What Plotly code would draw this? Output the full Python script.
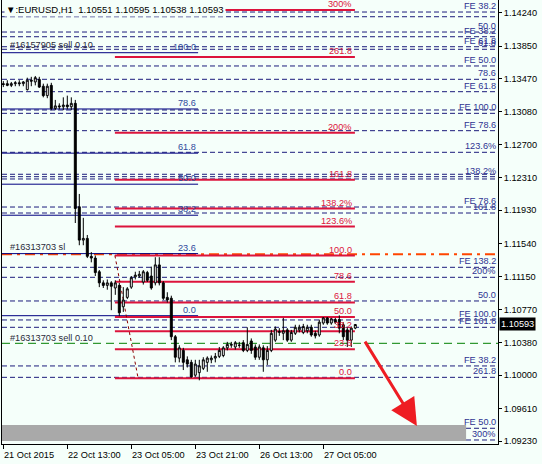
import plotly.graph_objects as go

# ---------------- data ----------------
bar_index = list(range(89))
open_ = [1.1341, 1.1341, 1.1339, 1.1341, 1.1342, 1.1341, 1.1334, 1.1345, 1.1343, 1.1346,
         1.1338, 1.1327, 1.1339, 1.1312, 1.1315, 1.1314, 1.1316, 1.1314, 1.1318, 1.1197,
         1.1158, 1.1160, 1.1139, 1.1137, 1.1121, 1.1108, 1.1105, 1.1108, 1.1102, 1.1105,
         1.1080, 1.1091, 1.1103, 1.1115, 1.1116, 1.1109, 1.1120, 1.1116, 1.1108, 1.1129,
         1.1108, 1.1091, 1.1090, 1.1045, 1.1020, 1.1029, 1.1018, 1.1015, 1.1000, 1.1003,
         1.1008, 1.1015, 1.1018, 1.1020, 1.1022, 1.1023, 1.1032, 1.1035, 1.1033, 1.1035,
         1.1038, 1.1029, 1.1040, 1.1033, 1.1021, 1.1032, 1.1018, 1.1029, 1.1041, 1.1050,
         1.1049, 1.1053, 1.1041, 1.1049, 1.1053, 1.1050, 1.1052, 1.1056, 1.1049, 1.1047,
         1.1061, 1.1067, 1.1061, 1.1065, 1.1065, 1.1059, 1.1053, 1.1041, 1.10551]
high = [1.1344, 1.1345, 1.1343, 1.1344, 1.1345, 1.1344, 1.1348, 1.1349, 1.1350, 1.1349,
        1.1341, 1.1341, 1.1342, 1.1322, 1.1318, 1.1325, 1.1327, 1.1325, 1.1322, 1.1212,
        1.1184, 1.1164, 1.1144, 1.1140, 1.1123, 1.1111, 1.1112, 1.1110, 1.1111, 1.1108,
        1.1103, 1.1103, 1.1116, 1.1121, 1.1122, 1.1123, 1.1122, 1.1127, 1.1138, 1.1138,
        1.1110, 1.1097, 1.1093, 1.1047, 1.1035, 1.1032, 1.1022, 1.1018, 1.1018, 1.1018,
        1.1021, 1.1022, 1.1023, 1.1026, 1.1033, 1.1034, 1.1039, 1.1039, 1.1040, 1.1039,
        1.1041, 1.1056, 1.1043, 1.1036, 1.1036, 1.1035, 1.1034, 1.1053, 1.1057, 1.1055,
        1.1067, 1.1055, 1.1053, 1.1059, 1.1059, 1.1060, 1.1059, 1.1059, 1.1052, 1.1065,
        1.1068, 1.1068, 1.1067, 1.1067, 1.1070, 1.1062, 1.1056, 1.1057, 1.10595]
low = [1.1337, 1.1338, 1.1337, 1.1338, 1.1338, 1.1338, 1.1333, 1.1338, 1.1339, 1.1336,
       1.1325, 1.1324, 1.1310, 1.1310, 1.1311, 1.1310, 1.1311, 1.1310, 1.1178, 1.1152,
       1.1152, 1.1137, 1.1132, 1.1116, 1.1103, 1.1102, 1.1100, 1.1076, 1.1094, 1.1069,
       1.1074, 1.1089, 1.1101, 1.1112, 1.1114, 1.1106, 1.1109, 1.1100, 1.1105, 1.1105,
       1.1088, 1.1085, 1.1041, 1.1015, 1.1015, 1.1006, 1.1009, 1.0997, 1.0998, 1.0994,
       1.1006, 1.1004, 1.1014, 1.1015, 1.1020, 1.1021, 1.1029, 1.1032, 1.1030, 1.1032,
       1.1027, 1.1027, 1.1025, 1.1018, 1.1018, 1.1004, 1.1012, 1.1027, 1.1039, 1.1046,
       1.1041, 1.1039, 1.1039, 1.1047, 1.1050, 1.1048, 1.1049, 1.1045, 1.1043, 1.1045,
       1.1059, 1.1059, 1.1059, 1.1060, 1.1049, 1.1041, 1.1033, 1.1033, 1.10538]
close = [1.1340, 1.1339, 1.1341, 1.1342, 1.1341, 1.1343, 1.1345, 1.1344, 1.1348, 1.1337,
         1.1327, 1.1338, 1.1312, 1.1315, 1.1314, 1.1316, 1.1314, 1.1318, 1.1195, 1.1158,
         1.1160, 1.1139, 1.1137, 1.1120, 1.1108, 1.1105, 1.1108, 1.1104, 1.1108, 1.1073,
         1.1088, 1.1101, 1.1114, 1.1117, 1.1118, 1.1121, 1.1111, 1.1102, 1.1129, 1.1108,
         1.1090, 1.1088, 1.1045, 1.1021, 1.1032, 1.1015, 1.1013, 1.0998, 1.1013, 1.1011,
         1.1018, 1.1020, 1.1020, 1.1022, 1.1029, 1.1032, 1.1036, 1.1036, 1.1038, 1.1035,
         1.1029, 1.1036, 1.1029, 1.1021, 1.1033, 1.1018, 1.1029, 1.1049, 1.1054, 1.1051,
         1.1052, 1.1041, 1.1050, 1.1056, 1.1056, 1.1057, 1.1056, 1.1047, 1.1046, 1.1062,
         1.1067, 1.1061, 1.1066, 1.1062, 1.1055, 1.1045, 1.1041, 1.1055, 1.10593]

date_ticks = [0, 16, 32, 48, 64, 80]
date_labels = ["21 Oct 2015", "22 Oct 13:00", "23 Oct 05:00", "23 Oct 21:00",
               "26 Oct 13:00", "27 Oct 05:00"]

price_ticks = [1.14240, 1.13850, 1.13470, 1.13080, 1.12700, 1.12310, 1.11930,
               1.11540, 1.11150, 1.10770, 1.10380, 1.10000, 1.09610, 1.09230]
price_tick_labels = ["1.14240", "1.13850", "1.13470", "1.13080", "1.12700", "1.12310",
                     "1.11930", "1.11540", "1.11150", "1.10770", "1.10380", "1.10000",
                     "1.09610", "1.09230"]

# Fibo retracement (navy, solid)
ret_labels = ["100.0", "78.6", "61.8", "50.0", "38.2", "23.6", "0.0"]
ret_prices = [1.13772, 1.13114, 1.12597, 1.12234, 1.11871, 1.11422, 1.10696]
ret_bar_end = 48.7

# Fibo (crimson)
red_labels = ["300%", "261.8", "200%", "161.8", "138.2%", "123.6%", "100.0",
              "78.6", "61.8", "50.0", "38.2", "23.6", "0.0"]
red_prices = [1.14272, 1.13723, 1.12836, 1.12287, 1.11949, 1.11739, 1.11400,
              1.11093, 1.10851, 1.10682, 1.10513, 1.10303, 1.09964]
red_bar_start, red_bar_end = 27.9, 87.9
red_anchor_bars = [27.9, 33.7]
red_anchor_prices = [1.11400, 1.09964]

# Fibo expansion levels (navy, dashed)
fe_prices = [1.14248, 1.14193, 1.14014, 1.13959, 1.13842, 1.13812, 1.13617, 1.13461,
             1.13316, 1.13102, 1.13063, 1.12860, 1.12607, 1.12350, 1.12322, 1.12295,
             1.11967, 1.11897, 1.11262, 1.11145, 1.10868, 1.10646, 1.10560, 1.10108,
             1.09975, 1.09379, 1.09242]
fe_labels = ["FE 38.2", "", "50.0", "FE 38.2", "FE 61.8", "61.8", "FE 50.0", "78.6",
             "FE 61.8", "", "FE 100.0", "FE 78.6", "123.6%", "", "138.2%", "",
             "FE 78.6", "161.8", "FE 138.2", "200%", "50.0", "FE 100.0", "FE 161.8",
             "FE 38.2", "261.8", "FE 50.0", "300%"]

# orders
sl_price = 1.11415
sell_price = 1.10373
old_sell_price = 1.13842
order_texts = ["#16157905 sell 0.10", "#16313703 sl", "#16313703 sell 0.10"]
order_prices = [old_sell_price, sl_price, sell_price]
order_shift = [2, 7, 5]

# target zone & arrow
zone_low, zone_high, zone_bar_end = 1.09230, 1.09417, 115.7
arrow_from = (90.2, 1.1041)
arrow_to = (103.4, 1.09405)

current_price = 1.10593
current_price_text = "1.10593"
title_text = "\u25bc:EURUSD,H1  1.10551 1.10595 1.10538 1.10593"

# ---------------- styling ----------------
BG = "#f5fffa"
NAVY = "#1c1c7c"
FE_TXT = "#2e3392"
RET_TXT = "#2f4a9c"
CRIMSON = "#dc143c"
FONT = "Liberation Sans, Arial, sans-serif"
FS = 9.2

fig = go.Figure()
fig.add_trace(go.Candlestick(
    x=bar_index, open=open_, high=high, low=low, close=close,
    increasing=dict(line=dict(color="black", width=1), fillcolor="white"),
    decreasing=dict(line=dict(color="black", width=1), fillcolor="black"),
    whiskerwidth=0, showlegend=False, hoverinfo="skip"))

shapes = []
annotations = []

# grey target zone
shapes.append(dict(type="rect", xref="x", yref="y", x0=-5, x1=zone_bar_end,
                   y0=zone_low, y1=zone_high, fillcolor="#a9a9a9",
                   line=dict(width=0), layer="below"))

# dashed FE lines (with background gaps like MT4)
for p in fe_prices:
    shapes.append(dict(type="line", xref="paper", yref="y", x0=0, x1=1, y0=p, y1=p,
                       line=dict(color=BG, width=1), layer="below"))
    shapes.append(dict(type="line", xref="paper", yref="y", x0=0, x1=1, y0=p, y1=p,
                       line=dict(color=NAVY, width=1, dash="5px,3px"), layer="below"))
for p, lab in zip(fe_prices, fe_labels):
    if lab:
        annotations.append(dict(xref="paper", yref="y", x=0.998, y=p, text=lab,
                                xanchor="right", yanchor="middle", yshift=6,
                                showarrow=False, borderpad=0,
                                font=dict(family=FONT, size=FS, color=FE_TXT)))

# navy retracement lines
for p, lab in zip(ret_prices, ret_labels):
    shapes.append(dict(type="line", xref="x", yref="y", x0=-5, x1=ret_bar_end, y0=p, y1=p,
                       line=dict(color="#000080", width=1), layer="below"))
    annotations.append(dict(xref="x", yref="y", x=ret_bar_end - 0.3, y=p, text=lab,
                            xanchor="right", yanchor="middle", yshift=6,
                            showarrow=False, borderpad=0,
                            font=dict(family=FONT, size=FS, color=RET_TXT)))

# orange stop-loss line and green sell line
shapes.append(dict(type="line", xref="paper", yref="y", x0=0, x1=1, y0=sl_price, y1=sl_price,
                   line=dict(color="#ff4500", width=2, dash="10px,5px,3px,5px"), layer="below"))
shapes.append(dict(type="line", xref="paper", yref="y", x0=0, x1=1, y0=sell_price, y1=sell_price,
                   line=dict(color="#008000", width=1, dash="8px,5px"), layer="below"))

# crimson fibo lines
for p, lab in zip(red_prices, red_labels):
    shapes.append(dict(type="line", xref="x", yref="y", x0=red_bar_start, x1=red_bar_end,
                       y0=p, y1=p, line=dict(color=CRIMSON, width=2), layer="below"))
    annotations.append(dict(xref="x", yref="y", x=red_bar_end - 0.4, y=p, text=lab,
                            xanchor="right", yanchor="middle", yshift=6,
                            showarrow=False, borderpad=0,
                            font=dict(family=FONT, size=FS, color=CRIMSON)))

# fibo anchor dotted line
shapes.append(dict(type="line", xref="x", yref="y",
                   x0=red_anchor_bars[0], x1=red_anchor_bars[1],
                   y0=red_anchor_prices[0], y1=red_anchor_prices[1],
                   line=dict(color="#8b0000", width=1, dash="dot"), layer="below"))

# order labels
for t, p, s in zip(order_texts, order_prices, order_shift):
    annotations.append(dict(xref="x", yref="y", x=1.4, y=p, text=t, xanchor="left",
                            yanchor="middle", yshift=s, showarrow=False, borderpad=0,
                            font=dict(family=FONT, size=FS, color="#2b2b3b")))

# red arrow
annotations.append(dict(xref="x", yref="y", x=arrow_to[0], y=arrow_to[1],
                        axref="x", ayref="y", ax=arrow_from[0], ay=arrow_from[1],
                        showarrow=True, arrowhead=2, arrowsize=1.8, arrowwidth=3,
                        arrowcolor="#ee1d23", text=""))

# title (drawn on a background patch, like the MT4 header)
annotations.append(dict(xref="paper", yref="paper", x=0, y=1, xshift=2, yshift=-2,
                        xanchor="left", yanchor="top", text=title_text, showarrow=False,
                        bgcolor=BG, borderpad=1,
                        font=dict(family=FONT, size=9.5, color="black")))

# x tick labels (left-aligned, MT4 style)
for t, lab in zip(date_ticks, date_labels):
    annotations.append(dict(xref="x", yref="paper", x=t, y=0, text=lab, xanchor="left",
                            yanchor="top", yshift=-4, xshift=-1, showarrow=False,
                            font=dict(family=FONT, size=FS, color="black")))

# current price box
annotations.append(dict(xref="paper", yref="y", x=1, y=current_price, text=current_price_text,
                        xanchor="left", yanchor="middle", xshift=1, showarrow=False,
                        bgcolor="black", borderpad=1,
                        font=dict(family=FONT, size=FS, color="white")))

fig.update_layout(
    width=542, height=464,
    margin=dict(l=2, r=44, t=0, b=20),
    paper_bgcolor=BG, plot_bgcolor=BG,
    showlegend=False,
    shapes=shapes, annotations=annotations,
    xaxis=dict(range=[-0.325, 123.675], showgrid=False, zeroline=False,
               tickvals=date_ticks, ticktext=[""] * len(date_ticks),
               ticks="outside", ticklen=4, tickcolor="black",
               showline=True, linecolor="black", linewidth=1,
               rangeslider=dict(visible=False), fixedrange=True),
    yaxis=dict(range=[1.091951, 1.143886], side="right", showgrid=False, zeroline=False,
               tickvals=price_ticks, ticktext=price_tick_labels,
               ticks="outside", ticklen=3, tickcolor="black",
               tickfont=dict(family=FONT, size=FS, color="black"),
               showline=True, linecolor="black", linewidth=1, mirror=True,
               fixedrange=True),
)

fig.write_html("out.html", config={"displayModeBar": False},
               post_script="document.body.style.margin='0';document.body.style.padding='0';"
                           "document.body.style.background='" + BG + "';")
